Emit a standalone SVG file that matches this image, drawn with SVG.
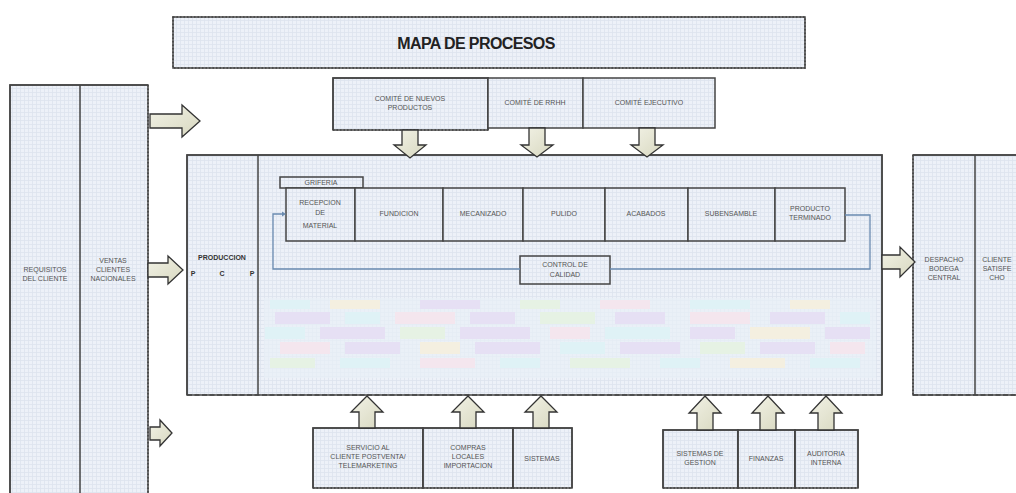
<svg xmlns="http://www.w3.org/2000/svg" width="1016" height="493" viewBox="0 0 1016 493">
<defs>
<pattern id="grid" width="4" height="4" patternUnits="userSpaceOnUse">
<rect width="4" height="4" fill="#edf1f8"/>
<path d="M0 0.5H4M0.5 0V4" stroke="#dde3ee" stroke-width="0.8"/>
</pattern>
<linearGradient id="arr" x1="0" y1="0" x2="1" y2="1">
<stop offset="0" stop-color="#f2f2e6"/>
<stop offset="1" stop-color="#d8d8c0"/>
</linearGradient>
</defs>
<style>
.box{fill:url(#grid);stroke:#444;stroke-width:1.5}
.ln{fill:none;stroke:#444;stroke-width:1.5}
.dot{fill:none;stroke:#444;stroke-width:1.5;stroke-dasharray:1.5 2}
.dash{fill:none;stroke:#444;stroke-width:1.5;stroke-dasharray:5 2.5}
.arrow{fill:url(#arr);stroke:#333;stroke-width:1.3}
.t{font-family:"Liberation Sans",Arial,sans-serif;font-size:7px;fill:#555;text-anchor:middle}
.tb{font-family:"Liberation Sans",Arial,sans-serif;font-size:7px;fill:#333;text-anchor:middle;font-weight:bold}
.flow{fill:none;stroke:#6a8bb0;stroke-width:1.3}
.m0{fill:#e8f0f6}.m1{fill:#e6e0f4}.m2{fill:#dff2f6}.m3{fill:#f4e6ee}.m4{fill:#e6f2e4}.m5{fill:#f4efe0}
</style>

<g id="title">
<rect x="173" y="17" width="632" height="51" class="box" stroke="none"/>
<rect x="173" y="17" width="632" height="51" class="dot"/>
<text x="476" y="49" font-family="Liberation Sans,Arial,sans-serif" font-size="16" font-weight="bold" fill="#222" text-anchor="middle" letter-spacing="-0.6">MAPA DE PROCESOS</text>
</g>

<g id="clientes-entrada">
<rect x="10" y="85" width="138" height="420" class="box" stroke="none"/>
<path d="M148 85V493" class="dot"/>
<path d="M10 493V85H148" class="ln"/>
<path d="M80 85V493" class="ln"/>
<text class="t" x="45" y="272">REQUISITOS</text>
<text class="t" x="45" y="281">DEL CLIENTE</text>
<text class="t" x="113" y="263">VENTAS</text>
<text class="t" x="113" y="272">CLIENTES</text>
<text class="t" x="113" y="281">NACIONALES</text>
</g>

<g id="comites">
<g id="comite-nuevos">
<rect x="333" y="78" width="155" height="52" class="box" stroke="none"/>
<path d="M333 130V78H488V130" class="ln"/>
<path d="M333 130H488" class="dot"/>
<text class="t" x="410" y="101">COMITÉ DE NUEVOS</text>
<text class="t" x="410" y="110">PRODUCTOS</text>
</g>
<g id="comite-rrhh">
<rect x="488" y="78" width="95" height="50" class="box"/>
<text class="t" x="535" y="105">COMITÉ DE RRHH</text>
</g>
<g id="comite-ejecutivo">
<rect x="583" y="78" width="132" height="50" class="box"/>
<text class="t" x="649" y="105">COMITÉ EJECUTIVO</text>
</g>
</g>

<g id="produccion">
<rect x="187" y="155" width="695" height="240" class="box" stroke="none"/>
<path d="M187 395V155H882V395" class="ln"/>
<path d="M187 395H882" class="dash"/>
<path d="M258 155V395" class="ln"/>
<g id="mosaico">
<rect x="264" y="298" width="612" height="80" class="m0" opacity="0.7"/>
<rect x="270" y="300" width="40" height="9" class="m2"/><rect x="330" y="300" width="50" height="9" class="m5"/><rect x="420" y="300" width="60" height="9" class="m1"/><rect x="520" y="300" width="40" height="9" class="m4"/><rect x="600" y="300" width="50" height="9" class="m3"/><rect x="690" y="300" width="60" height="9" class="m2"/><rect x="790" y="300" width="40" height="9" class="m5"/>
<rect x="275" y="312" width="55" height="12" class="m1"/><rect x="345" y="312" width="35" height="12" class="m2"/><rect x="395" y="312" width="60" height="12" class="m3"/><rect x="470" y="312" width="45" height="12" class="m1"/><rect x="540" y="312" width="55" height="12" class="m4"/><rect x="615" y="312" width="50" height="12" class="m1"/><rect x="690" y="312" width="60" height="12" class="m3"/><rect x="770" y="312" width="55" height="12" class="m1"/><rect x="840" y="312" width="30" height="12" class="m2"/>
<rect x="265" y="327" width="40" height="12" class="m2"/><rect x="320" y="327" width="65" height="12" class="m1"/><rect x="400" y="327" width="45" height="12" class="m4"/><rect x="460" y="327" width="70" height="12" class="m1"/><rect x="550" y="327" width="40" height="12" class="m3"/><rect x="605" y="327" width="65" height="12" class="m2"/><rect x="690" y="327" width="45" height="12" class="m1"/><rect x="750" y="327" width="60" height="12" class="m5"/><rect x="825" y="327" width="45" height="12" class="m1"/>
<rect x="280" y="342" width="50" height="12" class="m3"/><rect x="345" y="342" width="55" height="12" class="m1"/><rect x="420" y="342" width="40" height="12" class="m5"/><rect x="475" y="342" width="65" height="12" class="m1"/><rect x="560" y="342" width="45" height="12" class="m2"/><rect x="620" y="342" width="60" height="12" class="m1"/><rect x="700" y="342" width="45" height="12" class="m4"/><rect x="760" y="342" width="55" height="12" class="m1"/><rect x="830" y="342" width="35" height="12" class="m3"/>
<rect x="270" y="358" width="45" height="10" class="m4"/><rect x="340" y="358" width="50" height="10" class="m2"/><rect x="420" y="358" width="55" height="10" class="m3"/><rect x="500" y="358" width="40" height="10" class="m2"/><rect x="570" y="358" width="60" height="10" class="m4"/><rect x="660" y="358" width="40" height="10" class="m2"/><rect x="730" y="358" width="55" height="10" class="m5"/><rect x="810" y="358" width="50" height="10" class="m2"/>
</g>
<text class="tb" x="222" y="260">PRODUCCION</text>
<text class="tb" x="193" y="276" text-anchor="start">P</text>
<text class="tb" x="222" y="276">C</text>
<text class="tb" x="252" y="276" text-anchor="end">P</text>
</g>

<g id="griferia">
<rect x="280" y="177" width="83" height="11" class="box"/>
<text class="t" x="321" y="185">GRIFERIA</text>
</g>

<g id="procesos">
<g id="recepcion"><rect x="286" y="188" width="69" height="53" class="box"/><text class="t" x="320" y="205">RECEPCION</text><text class="t" x="320" y="215">DE</text><text class="t" x="320" y="228">MATERIAL</text></g>
<g id="fundicion"><rect x="355" y="188" width="88" height="53" class="box"/><text class="t" x="399" y="216">FUNDICION</text></g>
<g id="mecanizado"><rect x="443" y="188" width="80" height="53" class="box"/><text class="t" x="483" y="216">MECANIZADO</text></g>
<g id="pulido"><rect x="523" y="188" width="82" height="53" class="box"/><text class="t" x="564" y="216">PULIDO</text></g>
<g id="acabados"><rect x="605" y="188" width="83" height="53" class="box"/><text class="t" x="646" y="216">ACABADOS</text></g>
<g id="subensamble"><rect x="688" y="188" width="87" height="53" class="box"/><text class="t" x="731" y="216">SUBENSAMBLE</text></g>
<g id="producto-terminado"><rect x="775" y="188" width="70" height="53" class="box"/><text class="t" x="810" y="211">PRODUCTO</text><text class="t" x="810" y="220">TERMINADO</text></g>
</g>

<g id="control-calidad">
<rect x="520" y="256" width="90" height="28" class="box"/>
<text class="t" x="565" y="267">CONTROL DE</text>
<text class="t" x="565" y="277">CALIDAD</text>
</g>

<g id="despacho-cliente">
<rect x="913" y="155" width="110" height="240" class="box" stroke="none"/>
<path d="M913 155V395" class="dot"/>
<path d="M913 155H1016" class="ln"/>
<path d="M913 395H1016" class="dash"/>
<path d="M975 155V395" class="ln"/>
<text class="t" x="944" y="262">DESPACHO</text>
<text class="t" x="944" y="271">BODEGA</text>
<text class="t" x="944" y="280">CENTRAL</text>
<text class="t" x="997" y="262">CLIENTE</text>
<text class="t" x="997" y="271">SATISFE</text>
<text class="t" x="997" y="280">CHO</text>
</g>

<g id="apoyo-1">
<g id="servicio"><rect x="313" y="428" width="110" height="60" class="box" stroke="none"/><path d="M313 488V428H423V488" class="ln"/><path d="M313 488H423" class="dot"/><text class="t" x="368" y="450">SERVICIO AL</text><text class="t" x="368" y="459">CLIENTE POSTVENTA/</text><text class="t" x="368" y="468">TELEMARKETING</text></g>
<g id="compras"><rect x="423" y="428" width="90" height="60" class="box" stroke="none"/><path d="M423 488V428H513V488" class="ln"/><path d="M423 488H513" class="dot"/><text class="t" x="468" y="450">COMPRAS</text><text class="t" x="468" y="459">LOCALES</text><text class="t" x="468" y="468">IMPORTACION</text></g>
<g id="sistemas"><rect x="513" y="428" width="59" height="60" class="box" stroke="none"/><path d="M513 488V428H572V488" class="ln"/><path d="M513 488H572" class="dot"/><text class="t" x="542" y="461">SISTEMAS</text></g>
</g>

<g id="apoyo-2">
<g id="sistemas-gestion"><rect x="663" y="430" width="75" height="58" class="box" stroke="none"/><path d="M663 488V430H738V488" class="ln"/><path d="M663 488H738" class="dot"/><text class="t" x="700" y="456">SISTEMAS DE</text><text class="t" x="700" y="465">GESTION</text></g>
<g id="finanzas"><rect x="738" y="430" width="57" height="58" class="box" stroke="none"/><path d="M738 488V430H795V488" class="ln"/><path d="M738 488H795" class="dot"/><text class="t" x="766" y="461">FINANZAS</text></g>
<g id="auditoria"><rect x="795" y="430" width="63" height="58" class="box" stroke="none"/><path d="M795 488V430H858V488" class="ln"/><path d="M795 488H858" class="dot"/><text class="t" x="826" y="456">AUDITORIA</text><text class="t" x="826" y="465">INTERNA</text></g>
</g>

<g id="connectors">
<path class="flow" d="M845 215H870V269H610"/>
<path class="flow" d="M520 269H273V214H283"/>
<path d="M286 214l-4 -2.5v5z" fill="#6a8bb0"/>
<polygon class="arrow" points="150,114 182,114 182,105 200,121 182,137 182,128 150,128"/>
<polygon class="arrow" points="148,263 168,263 168,256 183,270 168,284 168,277 148,277"/>
<polygon class="arrow" points="150,427 160,427 160,420 172,433 160,446 160,440 150,440"/>
<polygon class="arrow" points="882,255 900,255 900,247 915,262 900,277 900,269 882,269"/>
<polygon class="arrow" points="402,130 418,130 418,145 426,145 410,158 394,145 402,145"/>
<polygon class="arrow" points="529,128 545,128 545,145 553,145 537,157 521,145 529,145"/>
<polygon class="arrow" points="639,128 655,128 655,145 663,145 647,157 631,145 639,145"/>
<polygon class="arrow" points="359,428 375,428 375,412 383,412 367,396 351,412 359,412"/>
<polygon class="arrow" points="460,428 476,428 476,412 484,412 468,396 452,412 460,412"/>
<polygon class="arrow" points="533,428 549,428 549,412 557,412 541,396 525,412 533,412"/>
<polygon class="arrow" points="697,430 713,430 713,413 721,413 705,396 689,413 697,413"/>
<polygon class="arrow" points="760,430 776,430 776,413 784,413 768,396 752,413 760,413"/>
<polygon class="arrow" points="818,430 834,430 834,413 842,413 826,396 810,413 818,413"/>
</g>
</svg>
